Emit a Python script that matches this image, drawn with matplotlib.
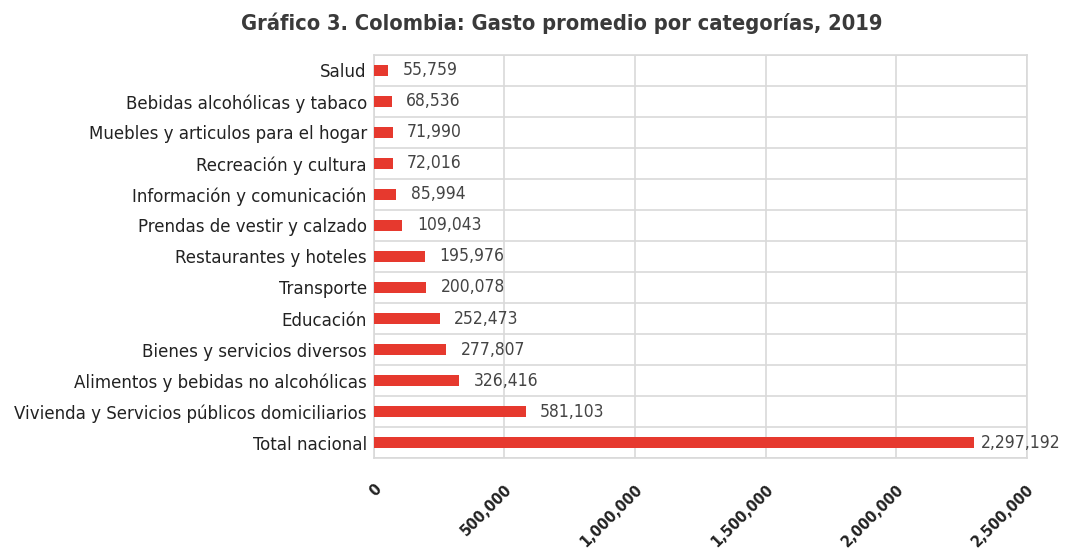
import matplotlib
matplotlib.use("Agg")
import matplotlib.pyplot as plt
import numpy as np

title = "Gráfico 3. Colombia: Gasto promedio por categorías, 2019"
categories = [
    "Salud",
    "Bebidas alcohólicas y tabaco",
    "Muebles y articulos para el hogar",
    "Recreación y cultura",
    "Información y comunicación",
    "Prendas de vestir y calzado",
    "Restaurantes y hoteles",
    "Transporte",
    "Educación",
    "Bienes y servicios diversos",
    "Alimentos y bebidas no alcohólicas",
    "Vivienda y Servicios públicos domiciliarios",
    "Total nacional",
]
values = [55759, 68536, 71990, 72016, 85994, 109043, 195976, 200078,
          252473, 277807, 326416, 581103, 2297192]
xticks = [0, 500000, 1000000, 1500000, 2000000, 2500000]

plt.rcParams['font.family'] = ['DejaVu Sans']
plt.rcParams['font.stretch'] = 'condensed'

fig = plt.figure(figsize=(10.65, 5.48), dpi=100)
ax = fig.add_axes([0.351, 0.164, 0.613, 0.736])

y = np.arange(len(categories))
bar_color = "#e6392e"
ax.barh(y, values, height=0.35, color=bar_color, zorder=3)
ax.set_ylim(len(categories) - 0.5, -0.5)
ax.set_xlim(0, 2500000)

ax.set_yticks(y)
ax.set_yticklabels(categories, fontsize=13.3, color="#222222", fontstretch="condensed")
ax.set_yticks(np.arange(len(categories) + 1) - 0.5, minor=True)
ax.set_xticks(xticks)
ax.set_xticklabels([f"{v:,}" for v in xticks], rotation=45, ha="right",
                   rotation_mode="anchor", fontsize=11.5, fontweight="bold",
                   color="#222222", fontstretch="condensed")
ax.tick_params(axis="both", which="both", length=0)
ax.tick_params(axis="y", pad=5)
ax.tick_params(axis="x", pad=17)

ax.grid(axis="x", which="major", color="#d9d9d9", linewidth=1.2, zorder=0)
ax.grid(axis="y", which="minor", color="#d9d9d9", linewidth=1.2, zorder=0)
ax.grid(axis="y", which="major", visible=False)
for s in ax.spines.values():
    s.set_color("#d9d9d9")
    s.set_linewidth(1.2)

vmax = max(values)
for yi, v in zip(y, values):
    off = 5 if v == vmax else 10.5
    ax.annotate(f"{v:,}", xy=(v, yi), xytext=(off, 0), textcoords="offset points",
                va="center", ha="left", fontsize=12.5, color="#444444",
                zorder=4, fontstretch="condensed", annotation_clip=False)

fig.text(0.527, 0.958, title, ha="center", va="center", fontsize=15.7,
         fontweight="bold", color="#3a3a3a", fontstretch="condensed")

fig.savefig("out.png", dpi=100, facecolor="white")
